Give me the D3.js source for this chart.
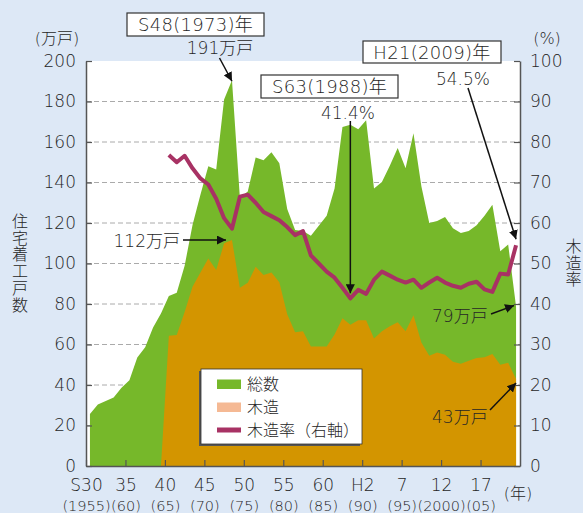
<!DOCTYPE html>
<html lang="ja">
<head>
<meta charset="utf-8">
<script src="https://cdn.jsdelivr.net/npm/d3@7"></script>
<style>
  body { margin: 0; background: #dde8f6; }
  svg { display: block; font-family: "DejaVu Sans", "Noto Sans CJK JP", sans-serif; font-weight: 300; }
  text { fill: #262626; }
</style>
</head>
<body>
<svg id="chart" width="583" height="513"></svg>
<script>
// 年 (1955〜2009)
const years = d3.range(1955, 2010)

// 総数 (万戸)
const total = [
  25.7, 30.4, 32.1, 33.8, 38.6, 42.4, 53.6, 58.6, 68.4, 75.3,
  84.0, 85.6, 98.9, 119.0, 134.0, 148.0, 146.4, 181.0, 190.5, 132.5,
  135.6, 152.4, 151.0, 154.9, 149.5, 126.9, 116.5, 116.0, 113.7, 118.7,
  123.6, 137.0, 167.4, 168.5, 166.3, 170.7, 137.0, 140.3, 148.3, 157.0,
  147.0, 164.3, 138.2, 120.0, 121.0, 123.0, 117.4, 115.1, 116.0, 118.9,
  123.6, 129.0, 106.1, 109.4, 78.8,
]

// 木造 (万戸) ※昭和39年以前はデータなし(0として描画)
const wooden = [
  0, 0, 0, 0, 0, 0, 0, 0, 0, 0,
  64.3, 64.7, 76.0, 88.5, 95.5, 102.5, 96.8, 110.0, 111.6, 88.0,
  90.5, 98.4, 94.3, 95.5, 90.8, 75.0, 66.0, 66.5, 59.0, 59.0,
  59.0, 65.0, 73.0, 69.8, 72.0, 72.0, 63.0, 66.5, 69.0, 71.0,
  66.5, 74.5, 61.0, 54.5, 56.0, 55.0, 51.5, 50.5, 52.0, 53.3,
  53.7, 55.3, 50.0, 51.0, 43.0,
]

// 木造率 (%)
const woodenRatio = [
  null, null, null, null, null, null, null, null, null, null,
  76.8, 75.0, 76.6, 73.5, 71.0, 69.5, 66.0, 61.2, 58.6, 66.5,
  67.0, 65.0, 62.7, 61.7, 60.7, 59.0, 57.0, 58.0, 52.0, 50.0,
  48.0, 46.5, 44.0, 41.4, 43.5, 42.5, 46.0, 48.0, 47.0, 46.0,
  45.3, 46.0, 44.0, 45.3, 46.5, 45.3, 44.5, 44.0, 45.0, 45.5,
  43.6, 43.0, 47.5, 47.3, 54.5,
]

const yearTicks = [1955, 1960, 1965, 1970, 1975, 1980, 1985, 1990, 1995, 2000, 2005]
const eraLabels = ['S30', '35', '40', '45', '50', '55', '60', 'H2', '7', '12', '17']
const westernLabels = ['(1955)', '(60)', '(65)', '(70)', '(75)', '(80)', '(85)', '(90)', '(95)', '(2000)', '(05)']
const leftTicks = [0, 20, 40, 60, 80, 100, 120, 140, 160, 180, 200]
const rightTicks = [0, 10, 20, 30, 40, 50, 60, 70, 80, 90, 100]

const Colors = {
  bg: '#dde8f6',
  total: '#76b82a',
  wooden: '#d39500',
  woodenLegend: '#f5b994',
  ratio: '#a83264',
  axis: '#555',
  grid: '#aaa',
  text: '#262626',
}

const data = years.map((year, i) => ({
  year,
  total: total[i],
  wooden: wooden[i],
  ratio: woodenRatio[i],
}))

const svg = d3.select('#chart')
const plot = { left: 86, right: 520, top: 61, bottom: 466 }

const x = d3.scaleLinear([1955, 2010], [plot.left, plot.right])
const y = d3.scaleLinear([0, 200], [plot.bottom, plot.top])
const yR = d3.scaleLinear([0, 100], [plot.bottom, plot.top])
// 各年の値は年の中央に置く
const px = d => x(d.year + 0.5)

svg.append('rect')
  .attr('width', 583).attr('height', 513)
  .attr('fill', Colors.bg)

svg.append('rect')
  .attr('x', plot.left).attr('y', plot.top)
  .attr('width', plot.right - plot.left).attr('height', plot.bottom - plot.top)
  .attr('fill', '#fff')

// 目盛線
svg.append('g')
  .selectAll('line')
  .data(leftTicks.filter(v => v > 0 && v < 200))
  .join('line')
  .attr('x1', plot.left).attr('x2', plot.right)
  .attr('y1', d => y(d)).attr('y2', d => y(d))
  .attr('stroke', Colors.grid)
  .attr('stroke-dasharray', '5,3')

svg.append('path')
  .datum(data)
  .attr('fill', Colors.total)
  .attr('d', d3.area().x(px).y0(plot.bottom).y1(d => y(d.total)))

svg.append('path')
  .datum(data.filter(d => d.year >= 1964))
  .attr('fill', Colors.wooden)
  .attr('d', d3.area().x(px).y0(plot.bottom).y1(d => y(d.wooden)))

svg.append('path')
  .datum(data)
  .attr('fill', 'none')
  .attr('stroke', Colors.ratio)
  .attr('stroke-width', 4)
  .attr('stroke-linejoin', 'round')
  .attr('d', d3.line().defined(d => d.ratio != null).x(px).y(d => yR(d.ratio)))

// 軸
function styleAxis(g) {
  g.attr('font-family', null).attr('font-size', null)
  g.select('.domain').attr('stroke', Colors.axis).attr('stroke-width', 1.5)
  g.selectAll('.tick line').attr('stroke', Colors.axis).attr('stroke-width', 1.2)
  g.selectAll('.tick text')
    .attr('fill', Colors.text)
    .attr('font-size', 17)
}

svg.append('g')
  .attr('transform', `translate(${plot.left},0)`)
  .call(d3.axisLeft(y).tickValues(leftTicks).tickSize(-6).tickSizeOuter(0).tickPadding(10))
  .call(styleAxis)

svg.append('g')
  .attr('transform', `translate(${plot.right},0)`)
  .call(d3.axisRight(yR).tickValues(rightTicks).tickSize(-6).tickSizeOuter(0).tickPadding(10))
  .call(styleAxis)

const xAxis = svg.append('g')
  .attr('transform', `translate(0,${plot.bottom})`)
  .call(d3.axisBottom(x).tickValues(yearTicks).tickSize(-6).tickSizeOuter(0).tickFormat(''))
  .call(styleAxis)

xAxis.selectAll('.tick text').remove()
xAxis.selectAll('.tick')
  .append('text')
  .attr('y', 25)
  .attr('text-anchor', 'middle')
  .attr('font-size', 17)
  .attr('fill', Colors.text)
  .text((d, i) => eraLabels[i])
xAxis.selectAll('.tick')
  .append('text')
  .attr('y', 45)
  .attr('text-anchor', 'middle')
  .attr('font-size', 14.5)
  .attr('fill', Colors.text)
  .text((d, i) => westernLabels[i])

svg.append('text')
  .attr('x', 518).attr('y', 499)
  .attr('text-anchor', 'middle')
  .attr('font-size', 16)
  .text('(年)')

svg.append('text')
  .attr('x', 57).attr('y', 44)
  .attr('text-anchor', 'middle')
  .attr('font-size', 16)
  .text('(万戸)')

svg.append('text')
  .attr('x', 547).attr('y', 44)
  .attr('text-anchor', 'middle')
  .attr('font-size', 16)
  .text('(%)')

function verticalLabel(str, cx, top) {
  svg.append('text')
    .attr('x', cx).attr('y', top)
    .attr('font-size', 16)
    .style('writing-mode', 'vertical-rl')
    .style('text-orientation', 'upright')
    .style('letter-spacing', '0.7px')
    .text(str)
}
verticalLabel('住宅着工戸数', 18.5, 213)
verticalLabel('木造率', 572, 238)

// 凡例
const legend = svg.append('g').attr('transform', 'translate(201,369)')
legend.append('rect')
  .attr('x', -2).attr('y', 2)
  .attr('width', 161).attr('height', 75)
  .attr('fill', '#555')
legend.append('rect')
  .attr('width', 161).attr('height', 75)
  .attr('fill', '#fff')
  .attr('stroke', '#333')
  .attr('stroke-width', 0.8)

const legendItems = [
  { label: '総数', type: 'area', color: Colors.total },
  { label: '木造', type: 'area', color: Colors.woodenLegend },
  { label: '木造率（右軸）', type: 'line', color: Colors.ratio },
]
const item = legend.selectAll('.item')
  .data(legendItems)
  .join('g')
  .attr('class', 'item')
  .attr('transform', (d, i) => `translate(16,${15 + i * 23})`)
item.append('rect')
  .attr('y', d => d.type === 'area' ? -4.5 : -2.5)
  .attr('width', 24)
  .attr('height', d => d.type === 'area' ? 9.5 : 5)
  .attr('fill', d => d.color)
item.append('text')
  .attr('x', 30).attr('y', 6)
  .attr('font-size', 16)
  .text(d => d.label)

// 注記
const defs = svg.append('defs')
defs.append('marker')
  .attr('id', 'arrow')
  .attr('viewBox', '0 0 10 10')
  .attr('refX', 10).attr('refY', 5)
  .attr('markerWidth', 9).attr('markerHeight', 9)
  .attr('markerUnits', 'userSpaceOnUse')
  .attr('orient', 'auto')
  .append('path')
  .attr('d', 'M0,0L10,5L0,10Z')
  .attr('fill', '#111')

function box(label, x0, y0, w, h) {
  svg.append('rect')
    .attr('x', x0).attr('y', y0)
    .attr('width', w).attr('height', h)
    .attr('fill', '#fff')
    .attr('stroke', '#333')
    .attr('stroke-width', 1.2)
  svg.append('text')
    .attr('x', x0 + w / 2).attr('y', y0 + h / 2 + 6.5)
    .attr('text-anchor', 'middle')
    .attr('font-size', 18)
    .style('letter-spacing', '0.3px')
    .text(label)
}

function note(label, tx, ty, anchor = 'middle') {
  svg.append('text')
    .attr('x', tx).attr('y', ty)
    .attr('text-anchor', anchor)
    .attr('font-size', 17)
    .text(label)
}

function arrow(x1, y1, x2, y2) {
  svg.append('line')
    .attr('x1', x1).attr('y1', y1)
    .attr('x2', x2).attr('y2', y2)
    .attr('stroke', '#111')
    .attr('stroke-width', 1.5)
    .attr('marker-end', 'url(#arrow)')
}

const at = year => data.find(d => d.year === year)

box('S48(1973)年', 127, 13, 137, 23)
note('191万戸', 220, 54)
arrow(219.5, 58, px(at(1973)), y(at(1973).total) + 1)

box('S63(1988)年', 261, 75, 137, 23)
note('41.4%', 348, 119)
arrow(px(at(1988)), 121, px(at(1988)), yR(at(1988).ratio) - 5)

box('H21(2009)年', 363, 41, 138, 22)
note('54.5%', 463, 85)
arrow(468, 88, px(at(2009)), yR(at(2009).ratio) - 6)

note('112万戸', 180, 247, 'end')
arrow(183, y(at(1973).wooden), px(at(1973)) - 6, y(at(1973).wooden))

note('79万戸', 432, 322, 'start')
arrow(491, 314, px(at(2009)) - 2, y(at(2009).total) - 1)

note('43万戸', 432, 423, 'start')
arrow(490, 410, px(at(2009)), y(at(2009).wooden) + 4)
</script>
</body>
</html>
